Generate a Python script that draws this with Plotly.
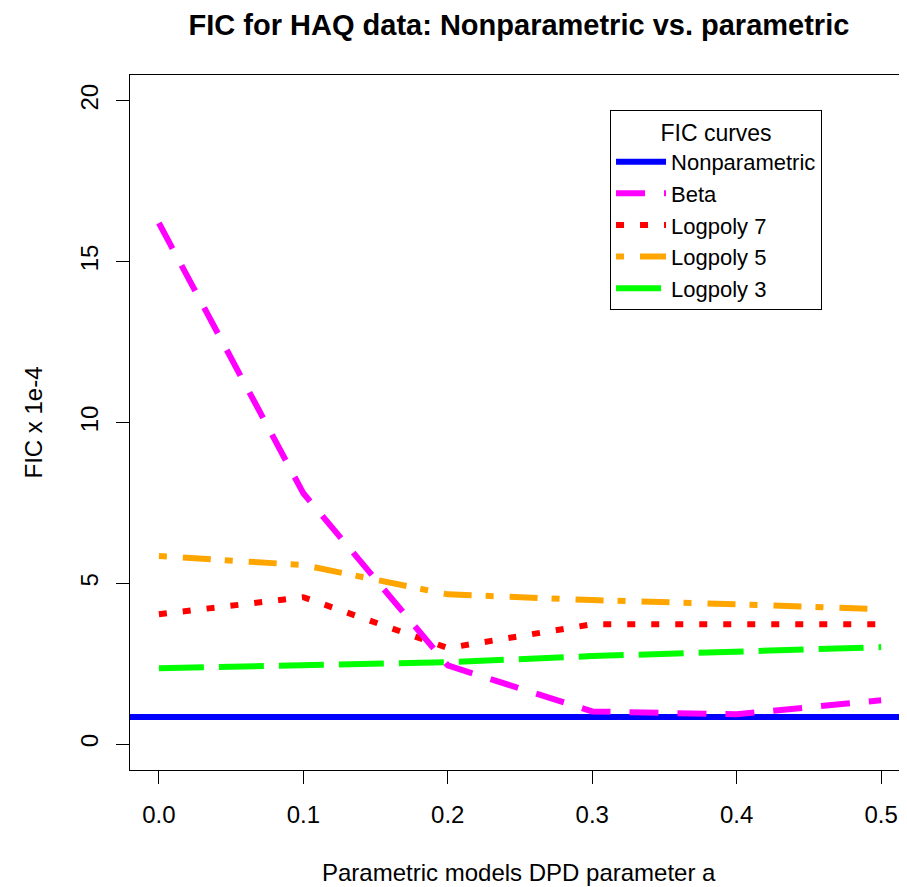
import plotly.graph_objects as go

# ---- data ----
a_vals = [0.0, 0.1, 0.2, 0.3, 0.4, 0.5]
nonparametric_fic = 0.85
beta_fic = [16.2, 7.8, 2.45, 1.02, 0.93, 1.37]
logpoly7_fic = [4.04, 4.57, 2.99, 3.73, 3.73, 3.73]
logpoly5_fic = [5.85, 5.57, 4.66, 4.48, 4.35, 4.20]
logpoly3_fic = [2.36, 2.46, 2.55, 2.74, 2.89, 3.02]

x_ticks = [0.0, 0.1, 0.2, 0.3, 0.4, 0.5]
x_tick_labels = ["0.0", "0.1", "0.2", "0.3", "0.4", "0.5"]
y_ticks = [0, 5, 10, 15, 20]
y_tick_labels = ["0", "5", "10", "15", "20"]

FONT = "Liberation Sans, Arial, sans-serif"
LW = 6
W, H = 899, 879  # page body adds an 8px margin

fig = go.Figure()

series = [
    ("Logpoly 3", logpoly3_fic, "#00FF00", "45px,15px", 5),
    ("Logpoly 5", logpoly5_fic, "#FFA500", "8px,16px,28px,14px", 4),
    ("Logpoly 7", logpoly7_fic, "#FF0000", "8px,16px", 3),
    ("Beta", beta_fic, "#FF00FF", "29px,19px", 2),
]
for name, vals, col, dash, rank in series:
    fig.add_trace(go.Scatter(
        x=a_vals, y=vals, mode="lines", name=name, legendrank=rank,
        line=dict(color=col, width=LW, dash=dash),
    ))

fig.add_shape(
    type="line", xref="x domain", yref="y", x0=0, x1=1,
    y0=nonparametric_fic, y1=nonparametric_fic,
    line=dict(color="#0000FF", width=LW), layer="below",
    showlegend=True, name="Nonparametric", legendrank=1,
)

axis_common = dict(
    showgrid=False, zeroline=False, showline=True, linecolor="black", linewidth=1,
    ticks="outside", ticklen=13, tickcolor="black", tickwidth=1,
    tickfont=dict(family=FONT, size=24, color="black"),
)

fig.update_layout(
    width=W, height=H,
    margin=dict(l=122, r=0, t=67, b=117),
    paper_bgcolor="white", plot_bgcolor="white",
    font=dict(family=FONT, size=24, color="black"),
    title=dict(
        text="<b>FIC for HAQ data: Nonparametric vs. parametric</b>",
        font=dict(family=FONT, size=29, color="black"),
        xref="paper", x=0.5006, xanchor="center",
        yref="container", y=1 - 17 / H, yanchor="middle",
    ),
    xaxis=dict(
        range=[-0.02, 0.5179], tickvals=x_ticks, ticktext=x_tick_labels,
        mirror=True, ticklabelstandoff=10, **axis_common,
    ),
    yaxis=dict(
        range=[-0.8, 20.8], tickvals=y_ticks, ticktext=y_tick_labels,
        tickangle=-90, mirror=False, ticklabelstandoff=8, **axis_common,
    ),
    legend=dict(
        title=dict(text="FIC curves", side="top center",
                   font=dict(family=FONT, size=23, color="black")),
        x=0.6178, y=0.9496, xanchor="left", yanchor="top",
        bgcolor="white", bordercolor="black", borderwidth=1,
        font=dict(family=FONT, size=22, color="black"),
        itemwidth=50, tracegroupgap=0,
    ),
    annotations=[
        dict(text="Parametric models DPD parameter a", xref="paper", yref="paper",
             x=0.5006, y=0, xanchor="center", yanchor="middle", yshift=-102,
             showarrow=False, font=dict(family=FONT, size=24, color="black")),
        dict(text="FIC x 1e-4", xref="paper", yref="paper",
             x=0, y=0.5, xanchor="center", yanchor="middle", xshift=-97,
             textangle=-90, showarrow=False,
             font=dict(family=FONT, size=24, color="black")),
    ],
)

fig.write_html("out.html")
